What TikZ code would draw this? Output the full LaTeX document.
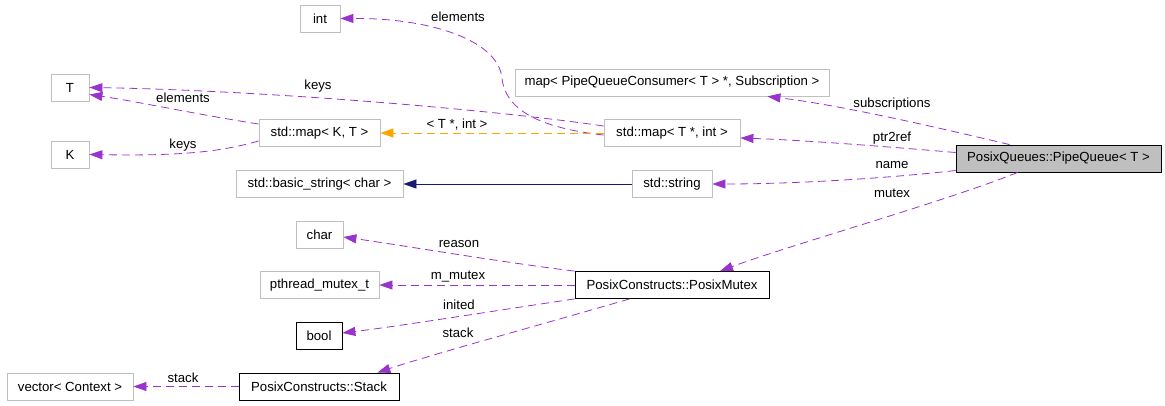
\documentclass[tikz,border=0pt]{standalone}
\usepackage{fontspec}
\setmainfont{Liberation Sans}
\usepackage{tikz}
\usetikzlibrary{arrows.meta}
\usetikzlibrary{calc}

\definecolor{edgepurple}{HTML}{9A32CD}
\definecolor{boxgray}{HTML}{BFBFBF}
\definecolor{tmplorange}{HTML}{FFA500}
\definecolor{basenavy}{HTML}{191970}
\newcommand{\diagfont}{\fontsize{13.2}{15}\selectfont}

\begin{document}
\begin{tikzpicture}[x=1pt,y=-1pt,
  cls/.style={draw=boxgray,line width=0.8pt,rectangle,minimum height=27pt,inner sep=0pt,font=\diagfont},
  clsdoc/.style={cls,draw=black},
  member/.style={draw=edgepurple,line width=0.8pt,dash pattern=on 8pt off 5pt,-{Triangle[length=13pt,width=9pt]}},
  tmpl/.style={member,draw=tmplorange},
  inherit/.style={draw=basenavy,line width=0.8pt,-{Triangle[length=13pt,width=9pt]}},
  elabel/.style={inner sep=0pt,font=\diagfont}]

  % Fix the page size
  \useasboundingbox (0,0) rectangle (1165,405);

  % Draw the classes
  \node[cls, minimum width=40pt] (int) at (320,18.5) {int};
  \node[cls, minimum width=38pt] (T) at (70,87.5) {T};
  \node[cls, minimum width=38pt] (K) at (70,154.5) {K};
  \node[cls, minimum width=121pt] (mapKT) at (319.5,133) {std::map< K, T >};
  \node[cls, minimum width=167pt] (bstring) at (319.5,184) {std::basic\_string< char >};
  \node[cls, minimum width=314pt] (subs) at (672,82.5) {map< PipeQueueConsumer< T > *, Subscription >};
  \node[cls, minimum width=136pt] (mapTint) at (672,133) {std::map< T *, int >};
  \node[cls, minimum width=80pt] (str) at (672,184) {std::string};
  \node[clsdoc, fill=boxgray, minimum width=205pt] (pq) at (1058.5,158.5) {PosixQueues::PipeQueue< T >};
  \node[cls, minimum width=47pt] (char) at (319.5,235) {char};
  \node[cls, minimum width=119pt] (pmutex) at (319.5,285) {pthread\_mutex\_t};
  \node[clsdoc, minimum width=46pt] (bool) at (319,336) {bool};
  \node[clsdoc, minimum width=194pt] (pmx) at (672,285) {PosixConstructs::PosixMutex};
  \node[cls, minimum width=126pt] (vec) at (70,386.5) {vector< Context >};
  \node[clsdoc, minimum width=160pt] (stack) at (319,386.5) {PosixConstructs::Stack};

  % Draw the members of PipeQueue
  \draw[member] ($(pq.north west)+(54,0)$) .. controls (940,128) and (840,105) .. ($(subs.south east)+(-62,0)$);
  \draw[member] ($(pq.west)+(0,-6)$) .. controls (880,146) and (800,140) .. ($(mapTint.east)+(0,5)$);
  \draw[member] ($(pq.west)+(0,12)$) .. controls (880,179) and (790,184) .. (str.east);
  \draw[member] ($(pq.south west)+(62,0)$) .. controls (950,200) and (790,245) .. ($(pmx.north)+(48,0)$);

  % Draw the maps
  \draw[member] ($(mapTint.west)+(0,2)$) .. controls (540,128) and (505,110) .. (502,78)
    .. controls (498,40) and (430,18) .. (int.east);
  \draw[member] ($(mapTint.west)+(0,-7)$) .. controls (480,108) and (250,90) .. (T.east);
  \draw[tmpl] (mapTint.west) -- (mapKT.east);
  \draw[member] ($(mapKT.west)+(0,-9)$) .. controls (200,115) and (140,102) .. ($(T.east)+(0,7)$);
  \draw[member] ($(mapKT.west)+(0,8)$) .. controls (220,152) and (180,156) .. (K.east);

  % Draw the string base
  \draw[inherit] (str.west) -- (bstring.east);

  % Draw the members of PosixMutex
  \draw[member] (pmx.north west) .. controls (500,262) and (400,245) .. ($(char.east)+(0,2)$);
  \draw[member] (pmx.west) -- (pmutex.east);
  \draw[member] (pmx.south west) .. controls (480,313) and (400,326) .. ($(bool.east)+(0,-3)$);
  \draw[member] ($(pmx.south west)+(55,0)$) .. controls (540,325) and (430,355) .. ($(stack.north east)+(-22,0)$);
  \draw[member] (stack.west) -- (vec.east);

  % Draw the edge labels
  \foreach \nm/\x/\y/\txt in {l1/892/104/subscriptions, l2/892/138/ptr2ref, l3/892/165/name,
      l4/892/193/mutex, l5/458/17/elements, l6/318/86/keys, l7/457/125/{< T *, int >},
      l8/183/98/elements, l9/183/145/keys, l10/459/244/reason, l11/458/277/m\_mutex,
      l12/459/305/inited, l13/458/333/stack, l14/183/378/stack} {
    \node[elabel] (\nm) at (\x,\y) {\txt};
  }

\end{tikzpicture}
\end{document}
